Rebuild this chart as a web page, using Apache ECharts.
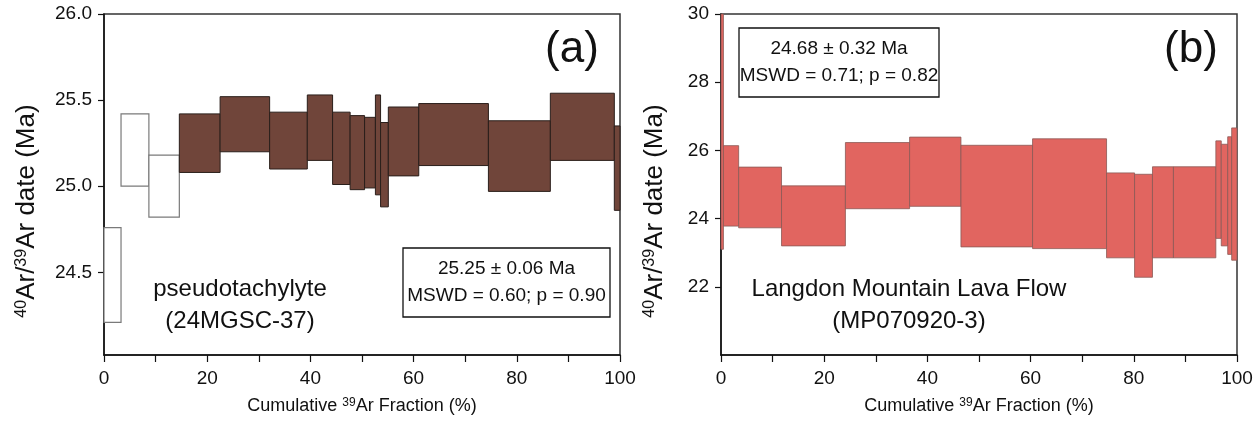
<!DOCTYPE html>
<html>
<head>
<meta charset="utf-8">
<script src="https://cdn.jsdelivr.net/npm/echarts@6/dist/echarts.min.js"></script>
<style>
  html, body { margin: 0; padding: 0; background: #fff; }
  #main { width: 1256px; height: 421px; }
</style>
</head>
<body>
<div id="main"></div>
<script>
// step boundaries (cumulative 39Ar %) and 2-sigma age envelopes (Ma)
const edgesA = [0, 3.3, 8.7, 14.6, 22.5, 32.1, 39.4, 44.3, 47.7, 50.5, 52.6, 53.6, 55.1, 61.0, 74.5, 86.5, 98.9, 100];
const lowA   = [24.21, 25.00, 24.82, 25.08, 25.20, 25.10, 25.15, 25.01, 24.98, 24.99, 24.95, 24.88, 25.06, 25.12, 24.97, 25.15, 24.86];
const highA  = [24.76, 25.42, 25.18, 25.42, 25.52, 25.43, 25.53, 25.43, 25.41, 25.40, 25.53, 25.37, 25.46, 25.48, 25.38, 25.54, 25.35];
const usedA  = [false, false, false, true, true, true, true, true, true, true, true, true, true, true, true, true, true];

const edgesB = [0, 0.47, 3.42, 11.73, 24.11, 36.55, 46.5, 60.38, 74.72, 80.15, 83.62, 87.68, 95.9, 96.95, 98.2, 98.97, 100];
const lowB   = [23.1, 23.78, 23.73, 23.20, 24.29, 24.36, 23.17, 23.12, 22.85, 22.28, 22.85, 22.85, 23.42, 23.20, 22.95, 22.78];
const highB  = [32.5, 26.14, 25.51, 24.96, 26.23, 26.39, 26.15, 26.34, 25.34, 25.30, 25.52, 25.52, 26.28, 26.18, 26.40, 26.66];

const xTicks  = [0, 10, 20, 30, 40, 50, 60, 70, 80, 90, 100];
const xLabels = [0, 20, 40, 60, 80, 100];
const yTicksA = [24.5, 25.0, 25.5, 26.0];
const yTicksB = [22, 24, 26, 28, 30];

const FONT = '"Liberation Sans", Arial, Helvetica, sans-serif';

function steps(edges, low, high, keep) {
  const out = [];
  for (let i = 0; i < low.length; i++) {
    if (keep && !keep(i)) continue;
    out.push([edges[i], edges[i + 1], low[i], high[i]]);
  }
  return out;
}

function boxRenderer(fill, stroke, lw) {
  return function (params, api) {
    const p0 = api.coord([api.value(0), api.value(3)]);
    const p1 = api.coord([api.value(1), api.value(2)]);
    const shape = echarts.graphic.clipRectByRect(
      { x: p0[0], y: p0[1], width: p1[0] - p0[0], height: p1[1] - p0[1] },
      { x: params.coordSys.x, y: params.coordSys.y, width: params.coordSys.width, height: params.coordSys.height }
    );
    if (!shape) return null;
    return { type: 'rect', shape: shape, style: { fill: fill, stroke: stroke, lineWidth: lw } };
  };
}

const tickLabel = { fontSize: 19, color: '#111', fontFamily: FONT };
const sup = { fontSize: 12, verticalAlign: 'top', fontFamily: FONT, color: '#111' };

function xAxis(gridIndex) {
  return {
    type: 'value', gridIndex: gridIndex, min: 0, max: 100,
    name: 'Cumulative {sup|39}Ar Fraction (%)',
    nameLocation: 'middle', nameGap: 42,
    nameTextStyle: { fontSize: 18, color: '#111', fontFamily: FONT, rich: { sup: sup } },
    axisLine: { lineStyle: { color: '#111', width: 1.5 } },
    axisTick: { length: 7, lineStyle: { color: '#111', width: 1.2 }, customValues: xTicks },
    axisLabel: Object.assign({ margin: 14, customValues: xLabels }, tickLabel),
    splitLine: { show: false }
  };
}

function yAxis(gridIndex, min, max, ticks, fmt) {
  return {
    type: 'value', gridIndex: gridIndex, min: min, max: max,
    axisLine: { show: true, lineStyle: { color: '#111', width: 1.5 } },
    axisTick: { show: true, length: 6, lineStyle: { color: '#111', width: 1.2 }, customValues: ticks },
    axisLabel: Object.assign({ margin: 12, customValues: ticks, formatter: fmt }, tickLabel),
    splitLine: { show: false }
  };
}

function yTitle(x) {
  return {
    type: 'text', x: x, y: 211, rotation: Math.PI / 2,
    style: {
      text: '{sup|40}Ar/{sup|39}Ar date (Ma)',
      fontSize: 26, fontFamily: FONT, fill: '#111',
      align: 'center', verticalAlign: 'middle',
      rich: { sup: { fontSize: 16, verticalAlign: 'top', fontFamily: FONT, fill: '#111' } }
    }
  };
}

function label(x, y, text, size) {
  return {
    type: 'text', x: x, y: y,
    style: { text: text, fontSize: size, fontFamily: FONT, fill: '#111', align: 'center', verticalAlign: 'middle', lineHeight: 32 }
  };
}

function statBox(x, y, w, h, text) {
  return {
    type: 'group', x: x, y: y,
    children: [
      { type: 'rect', shape: { x: 0, y: 0, width: w, height: h }, style: { fill: '#fff', stroke: '#111', lineWidth: 1.3 } },
      { type: 'text', x: w / 2, y: h / 2,
        style: { text: text, fontSize: 19, fontFamily: FONT, fill: '#111', align: 'center', verticalAlign: 'middle', lineHeight: 27 } }
    ]
  };
}

const chart = echarts.init(document.getElementById('main'));

chart.setOption({
  animation: false,
  grid: [
    { left: 104, right: 636, top: 14, bottom: 66, show: true, borderColor: '#333', borderWidth: 1.5 },
    { left: 721, right: 19, top: 14, bottom: 66, show: true, borderColor: '#333', borderWidth: 1.5 }
  ],
  xAxis: [xAxis(0), xAxis(1)],
  yAxis: [
    yAxis(0, 24.02, 26, yTicksA, v => v.toFixed(1)),
    yAxis(1, 20, 30, yTicksB, v => String(v))
  ],
  series: [
    {
      type: 'custom', xAxisIndex: 0, yAxisIndex: 0,
      encode: { x: [0, 1], y: [2, 3] },
      renderItem: boxRenderer('#fff', '#7a7a7a', 1.2),
      data: steps(edgesA, lowA, highA, i => !usedA[i])
    },
    {
      type: 'custom', xAxisIndex: 0, yAxisIndex: 0,
      encode: { x: [0, 1], y: [2, 3] },
      renderItem: boxRenderer('#70453a', '#2a1f1b', 1),
      data: steps(edgesA, lowA, highA, i => usedA[i])
    },
    {
      type: 'custom', xAxisIndex: 1, yAxisIndex: 1,
      encode: { x: [0, 1], y: [2, 3] },
      renderItem: boxRenderer('#e16560', '#8a5956', 0.8),
      data: steps(edgesB, lowB, highB)
    }
  ],
  graphic: [
    yTitle(27),
    yTitle(655),
    label(572, 50, '(a)', 44),
    label(1191, 50, '(b)', 44),
    label(240, 305, 'pseudotachylyte\n(24MGSC-37)', 24),
    label(909, 305, 'Langdon Mountain Lava Flow\n(MP070920-3)', 24),
    statBox(403, 248, 207, 69, '25.25 ± 0.06 Ma\nMSWD = 0.60; p = 0.90'),
    statBox(739, 28, 200, 69, '24.68 ± 0.32 Ma\nMSWD = 0.71; p = 0.82')
  ]
});
</script>
</body>
</html>
